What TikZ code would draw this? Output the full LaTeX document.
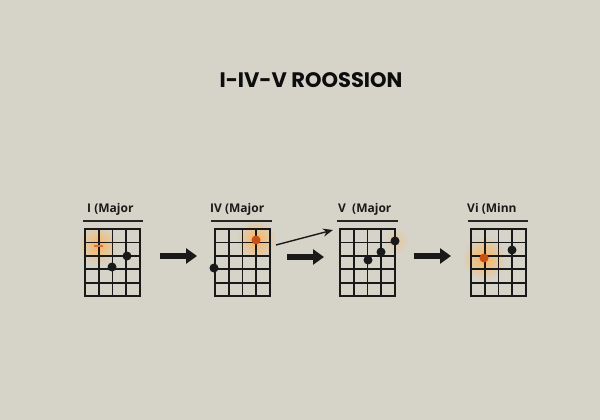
\documentclass[tikz,border=0pt]{standalone}
\usepackage{fontspec}
\setmainfont{Open Sans}
\newfontfamily\titlefont{Poppins}
\usetikzlibrary{arrows.meta}
\definecolor{bg}{RGB}{214,211,201}
\definecolor{glow}{RGB}{252,180,90}
\definecolor{dotor}{RGB}{200,80,20}
\newcommand\mygrid[2]{%
  \foreach \i in {0,...,4} {\draw[gridline] ({#1+\i*13.75},#2) -- ({#1+\i*13.75},{#2+67});}
  \foreach \j in {0,...,5} {\draw[gridline] (#1,{#2+\j*13.4}) -- ({#1+55},{#2+\j*13.4});}
}
\begin{document}
\begin{tikzpicture}[x=1pt,y=-1pt,
  gridline/.style={line width=1.8pt,line cap=rect,black!90},
  ulline/.style={line width=1.3pt,black!85},
  chordlabel/.style={anchor=base west,inner sep=0pt,font=\bfseries\fontsize{12}{14}\selectfont,text=black!90},
  fdot/.style={circle,fill=black!90,minimum size=9pt,inner sep=0pt},
  odot/.style={circle,fill=dotor,minimum size=9pt,inner sep=0pt},
  bigarrow/.style={line width=5.5pt,black!90,-{Triangle[length=11pt,width=15pt]}},
  thinarrow/.style={line width=1.4pt,black!90,-{Stealth[length=10pt,width=8pt]}}]
\useasboundingbox (0,0) rectangle (600,420);
\fill[bg] (0,0) rectangle (600,420);

% title
\node[font=\titlefont\bfseries\fontsize{21}{24}\selectfont,text=black!95] (title) at (311,80) {I-IV-V ROOSSION};

% glows
\shade[inner color=glow,outer color=bg] (98,245) circle (20);
\shade[inner color=glow,outer color=bg] (256,240) circle (20);
\shade[inner color=glow!40!bg,outer color=bg] (396,241) circle (13);
\shade[inner color=glow,outer color=bg] (484,258) circle (22);

% grids
\mygrid{85}{229}
\mygrid{215}{229}
\mygrid{340}{229}
\mygrid{471}{229}

% labels
\node[chordlabel] (l1) at (87,212) {I (Major};
\node[chordlabel] (l2) at (210,212) {IV (Major};
\node[chordlabel] (l3) at (338,212) {V\ \ (Major};
\node[chordlabel] (l4) at (467,212) {Vi (Minn};
\draw[ulline] (83,221) -- (143,221);
\draw[ulline] (211,221) -- (272,221);
\draw[ulline] (337,221) -- (398,221);
\draw[ulline] (468,221) -- (528,221);

% chord I
\draw[line width=1.2pt,dotor!80] (94,246) -- (103,246);
\node[fdot] (d11) at (127,256) {};
\node[fdot] (d12) at (112,267) {};
% chord IV
\node[odot] (d21) at (256,240) {};
\node[fdot] (d22) at (214,268) {};
% chord V
\node[fdot] (d31) at (395,241) {};
\node[fdot] (d32) at (381,252) {};
\node[fdot] (d33) at (368,260) {};
% chord vi
\node[odot] (d41) at (484,258) {};
\node[fdot] (d42) at (512,250) {};

% arrows
\coordinate (a1s) at (160,256); \coordinate (a1e) at (197,256);
\coordinate (a2s) at (287,257); \coordinate (a2e) at (324,257);
\coordinate (a3s) at (414,256); \coordinate (a3e) at (451,256);
\coordinate (t1s) at (276,245); \coordinate (t1e) at (333,230);
\draw[bigarrow] (a1s) -- (a1e);
\draw[bigarrow] (a2s) -- (a2e);
\draw[bigarrow] (a3s) -- (a3e);
\draw[thinarrow] (t1s) -- (t1e);
\end{tikzpicture}
\end{document}
